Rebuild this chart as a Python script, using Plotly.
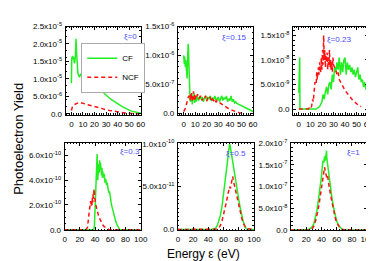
import plotly.graph_objects as go

# ---------------- data ----------------
# panel xi=0  (values in units of 1e-5)
p0_unit = 1e-5
p0_cf_x = [0, 0.3, 0.6, 1, 1.5, 2, 2.5, 3, 3.5, 4, 4.5, 5, 5.5, 6, 7, 8, 9, 10, 11, 12, 13, 14, 15, 16, 17, 18, 19, 20,
           21, 22, 23, 24, 25, 26, 27, 28, 29, 30, 32, 34, 36, 38, 40, 42, 44, 46, 48, 50, 52, 54, 56, 58, 60]
p0_cf_y = [0.88, 1.62, 1.55, 1.66, 1.58, 1.62, 1.45, 1.5, 1.7, 2.15, 1.75, 1.25, 1.2, 1.12, 1.05, 1.15, 1.08, 1.18, 1.04,
           1.08, 1.0, 1.04, 0.97, 0.96, 0.93, 0.88, 0.87, 0.82, 0.8, 0.76, 0.75, 0.7, 0.69, 0.64, 0.62, 0.58, 0.57, 0.52,
           0.47, 0.42, 0.38, 0.33, 0.29, 0.25, 0.21, 0.17, 0.14, 0.11, 0.08, 0.06, 0.045, 0.03, 0.02]
p0_ncf_x = [0, 0.5, 1, 2, 3, 4, 5, 6, 7, 8, 10, 12, 14, 16, 18, 20, 22, 25, 28, 30, 33, 36, 40, 44, 48, 52, 56, 60]
p0_ncf_y = [0.1, 0.18, 0.22, 0.26, 0.28, 0.3, 0.31, 0.32, 0.33, 0.32, 0.31, 0.29, 0.28, 0.26, 0.24, 0.22, 0.2, 0.17,
            0.14, 0.12, 0.1, 0.08, 0.055, 0.035, 0.02, 0.01, 0.005, 0.002]

# panel xi=0.15 (units of 1e-6)
p1_unit = 1e-6
p1_cf_x = [0, 0.3, 0.6, 0.9, 1.2, 1.5, 1.8, 2.1, 2.4, 2.7, 3.0, 3.3, 3.6, 3.9, 4.2, 4.5, 4.8, 5.1, 5.5, 6, 6.5, 7,
           7.5, 8, 8.5, 9, 9.5, 10, 10.5, 11, 11.5, 12, 13, 14, 15, 16, 17, 18, 19, 20, 21, 22, 23, 24, 25, 26, 27, 28,
           29, 30, 31, 32, 33, 34, 35, 36, 37, 38, 39, 40, 41, 42, 43, 44, 45, 46, 48, 50, 52, 54, 56, 58, 60]
p1_cf_y = [1.0, 0.95, 0.85, 0.98, 0.9, 0.8, 0.92, 0.85, 0.72, 0.8, 0.6, 0.85, 1.0, 1.2, 1.1, 0.9, 0.6, 0.3, 0.25,
           0.2, 0.28, 0.32, 0.15, 0.3, 0.22, 0.35, 0.18, 0.3, 0.25, 0.2, 0.3, 0.27, 0.22, 0.3, 0.24, 0.28, 0.2, 0.26,
           0.3, 0.22, 0.27, 0.25, 0.3, 0.21, 0.27, 0.24, 0.3, 0.22, 0.26, 0.28, 0.2, 0.25, 0.3, 0.22, 0.27, 0.24, 0.3,
           0.2, 0.25, 0.22, 0.3, 0.2, 0.24, 0.18, 0.2, 0.17, 0.15, 0.13, 0.1, 0.08, 0.06, 0.04, 0.03]
p1_ncf_x = [0, 1, 2, 3, 4, 5, 5.5, 6, 6.5, 7, 7.5, 8, 8.5, 9, 9.5, 10, 10.5, 11, 12, 13, 14, 15, 16, 17, 18, 19, 20,
            21, 22, 23, 24, 25, 26, 27, 28, 29, 30, 32, 34, 36, 38, 40, 42, 44, 46, 48, 50]
p1_ncf_y = [0.03, 0.06, 0.12, 0.2, 0.28, 0.3, 0.22, 0.33, 0.25, 0.35, 0.2, 0.3, 0.38, 0.24, 0.32, 0.22, 0.3, 0.27,
            0.33, 0.25, 0.28, 0.3, 0.22, 0.27, 0.25, 0.3, 0.21, 0.26, 0.24, 0.28, 0.2, 0.24, 0.22, 0.25, 0.19, 0.22,
            0.2, 0.17, 0.15, 0.12, 0.09, 0.07, 0.05, 0.03, 0.02, 0.01, 0.005]

# panel xi=0.23 (units of 1e-8)
p2_unit = 1e-8
p2_cf_x = [0, 0.2, 0.8, 1.0, 5, 10, 15, 18, 19, 20, 21, 22, 23, 24, 25, 26, 27, 28, 29, 30, 31, 32, 33, 34, 35, 36,
           37, 38, 39, 40, 41, 42, 43, 44, 45, 46, 47, 48, 49, 50, 51, 52, 53, 54, 55, 56, 57, 58, 59, 60]
p2_cf_y = [0.33, 1.05, 1.05, 0, 0, 0, 0, 0.05, 0.1, 0.15, 0.3, 0.2, 0.35, 0.45, 0.3, 0.5, 0.55, 0.4, 0.7, 0.55, 0.85,
           0.75, 0.95, 0.8, 1.05, 0.7, 0.95, 0.75, 1.0, 1.05, 0.7, 0.95, 0.8, 0.9, 0.75, 0.85, 0.7, 0.8, 0.65, 0.75,
           0.85, 0.6, 0.7, 0.55, 0.6, 0.45, 0.55, 0.4, 0.45, 0.35]
p2_ncf_x = [0, 5, 8, 9, 10, 11, 12, 12.5, 13, 14, 15, 15.5, 16, 17, 17.5, 18, 19, 19.5, 20, 20.5, 21, 21.5, 22, 22.5,
            23, 23.5, 24, 24.5, 25, 25.5, 26, 26.5, 27, 27.5, 28, 28.5, 29, 29.5, 30, 31, 32, 33, 34, 35, 36, 37, 38,
            40, 42, 44, 46, 48, 50, 52, 54]
p2_ncf_y = [0, 0, 0, 0.02, 0, 0.05, 0.2, 0.15, 0.35, 0.55, 0.5, 0.75, 0.6, 0.85, 0.7, 0.95, 0.75, 1.05, 0.8, 1.2, 0.9,
            1.5, 1.0, 1.2, 0.85, 1.1, 0.95, 1.15, 0.8, 1.05, 0.9, 1.2, 0.85, 1.0, 0.8, 0.95, 0.75, 1.05, 0.9, 0.85,
            0.8, 0.7, 0.75, 0.6, 0.55, 0.5, 0.45, 0.38, 0.32, 0.25, 0.2, 0.15, 0.1, 0.07, 0.05]

# panel xi=0.3 (units of 1e-10)
p3_unit = 1e-10
p3_cf_x = [0, 10, 20, 30, 38, 39, 40, 41, 42, 42.7, 43.3, 44, 44.5, 45, 45.5, 46, 46.5, 47, 47.5, 48, 48.5, 49, 49.5,
           50, 51, 52, 53, 54, 55, 56, 57, 58, 59, 60, 61, 62, 63, 64, 65, 66, 67, 68, 69, 70, 71, 72, 80, 90, 100]
p3_cf_y = [0, 0, 0, 0, 0, 0.2, 1.5, 3.5, 5.0, 6.1, 4.0, 4.8, 4.3, 5.3, 4.6, 5.6, 4.8, 5.4, 4.5, 5.1, 4.4, 5.0, 4.2,
           4.7, 4.2, 4.5, 3.8, 4.1, 3.6, 3.8, 3.3, 3.0, 3.1, 2.5, 2.2, 1.9, 1.6, 1.4, 1.1, 0.9, 0.7, 0.5, 0.35, 0.2,
           0.1, 0.03, 0, 0, 0]
p3_ncf_x = [0, 10, 20, 28, 30, 31, 32, 33, 34, 35, 35.5, 36, 36.5, 37, 37.5, 38, 38.5, 39, 39.5, 40, 41, 42, 43, 44,
            45, 46, 47, 48, 49, 50, 52, 54, 56, 58, 60, 70, 80, 90, 100]
p3_ncf_y = [0, 0, 0, 0, 0.2, 0.6, 1.2, 1.8, 2.3, 1.9, 2.4, 2.0, 2.6, 2.2, 2.9, 2.5, 3.3, 2.7, 3.0, 2.4, 2.0, 1.7, 1.5,
            1.2, 1.0, 0.9, 0.75, 0.6, 0.5, 0.4, 0.25, 0.15, 0.06, 0.02, 0, 0, 0, 0, 0]

# panel xi=0.5 (units of 1e-10)
p4_unit = 1e-10
p4_cf_x = [0, 20, 40, 45, 48, 50, 52, 54, 56, 58, 60, 62, 63, 64, 65, 66, 67, 68, 69, 70, 71, 72, 74, 76, 78, 80, 82,
           84, 86, 88, 90, 92, 100]
p4_cf_y = [0, 0, 0, 0.003, 0.01, 0.02, 0.05, 0.1, 0.17, 0.27, 0.4, 0.55, 0.62, 0.7, 0.78, 0.86, 0.94, 1.0, 0.96, 0.9,
           0.85, 0.8, 0.7, 0.58, 0.46, 0.35, 0.25, 0.16, 0.09, 0.04, 0.01, 0, 0]
p4_ncf_x = [0, 20, 40, 50, 52, 54, 56, 58, 60, 62, 64, 66, 67, 68, 69, 70, 71, 72, 73, 74, 76, 78, 80, 82, 84, 86, 88,
            90, 100]
p4_ncf_y = [0, 0, 0, 0, 0.005, 0.02, 0.05, 0.1, 0.17, 0.25, 0.33, 0.42, 0.45, 0.5, 0.48, 0.55, 0.58, 0.62, 0.57, 0.52,
            0.45, 0.37, 0.28, 0.2, 0.13, 0.07, 0.03, 0.01, 0]

# panel xi=1 (units of 1e-7)
p5_unit = 1e-7
p5_cf_x = [0, 10, 20, 23, 26, 28, 30, 32, 34, 36, 38, 40, 41, 42, 43, 44, 45, 46, 46.6, 47, 48, 49, 50, 52, 54, 56, 58,
           60, 62, 64, 66, 68, 70, 80, 90, 100]
p5_cf_y = [0, 0, 0, 0.01, 0.04, 0.08, 0.15, 0.28, 0.45, 0.7, 0.95, 1.25, 1.45, 1.6, 1.55, 1.7, 1.6, 1.75, 1.83, 1.65,
           1.5, 1.4, 1.2, 0.95, 0.7, 0.5, 0.33, 0.2, 0.12, 0.06, 0.03, 0.01, 0, 0, 0, 0]
p5_ncf_x = [0, 10, 20, 25, 27, 29, 31, 33, 35, 37, 39, 40, 41, 42, 43, 44, 45, 46, 47, 48, 49, 50, 52, 54, 56, 58, 60,
            62, 64, 66, 70, 80, 90, 100]
p5_ncf_y = [0, 0, 0, 0, 0.02, 0.06, 0.13, 0.25, 0.42, 0.62, 0.85, 1.0, 1.1, 1.25, 1.3, 1.45, 1.35, 1.3, 1.2, 1.25, 1.1,
            1.0, 0.8, 0.6, 0.42, 0.28, 0.17, 0.1, 0.05, 0.02, 0.005, 0, 0, 0]

xi_labels = ["ξ=0", "ξ=0.15", "ξ=0.23", "ξ=0.3", "ξ=0.5", "ξ=1"]
series_names = ["CF", "NCF"]

top_x_ticks = [0, 10, 20, 30, 40, 50, 60]
bot_x_ticks = [0, 20, 40, 60, 80, 100]

y_tickvals = [
    [0, 5e-6, 1e-5, 1.5e-5, 2e-5, 2.5e-5],
    [0, 5e-7, 1e-6, 1.5e-6],
    [0, 5e-9, 1e-8, 1.5e-8],
    [0, 2e-10, 4e-10, 6e-10],
    [0, 5e-11, 1e-10],
    [0, 5e-8, 1e-7, 1.5e-7, 2e-7],
]
y_ticktext = [
    ["0.0", "5.0x10<sup>-6</sup>", "1.0x10<sup>-5</sup>", "1.5x10<sup>-5</sup>", "2.0x10<sup>-5</sup>", "2.5x10<sup>-5</sup>"],
    ["0.0", "5.0x10<sup>-7</sup>", "1.0x10<sup>-6</sup>", "1.5x10<sup>-6</sup>"],
    ["0.0", "5.0x10<sup>-9</sup>", "1.0x10<sup>-8</sup>", "1.5x10<sup>-8</sup>"],
    ["0.0", "2.0x10<sup>-10</sup>", "4.0x10<sup>-10</sup>", "6.0x10<sup>-10</sup>"],
    ["0.0", "5.0x10<sup>-11</sup>", "1.0x10<sup>-10</sup>"],
    ["0.0", "5.0x10<sup>-8</sup>", "1.0x10<sup>-7</sup>", "1.5x10<sup>-7</sup>", "2.0x10<sup>-7</sup>"],
]
y_ranges = [[-0.03e-5, 2.5e-5], [-0.03e-6, 1.5e-6], [-0.12e-8, 1.68e-8],
            [-0.05e-10, 7.0e-10], [-0.01e-10, 1.01e-10], [-0.01e-7, 2.01e-7]]

# ---------------- figure ----------------
W, H = 374, 261
GREEN = "#22ee22"
RED = "#ff1111"
BLUE = "#4a4aff"
FONT = "Liberation Sans, Arial, sans-serif"

panels = [
    (p0_cf_x, p0_cf_y, p0_ncf_x, p0_ncf_y, p0_unit),
    (p1_cf_x, p1_cf_y, p1_ncf_x, p1_ncf_y, p1_unit),
    (p2_cf_x, p2_cf_y, p2_ncf_x, p2_ncf_y, p2_unit),
    (p3_cf_x, p3_cf_y, p3_ncf_x, p3_ncf_y, p3_unit),
    (p4_cf_x, p4_cf_y, p4_ncf_x, p4_ncf_y, p4_unit),
    (p5_cf_x, p5_cf_y, p5_ncf_x, p5_ncf_y, p5_unit),
]

# pixel boxes (left, right, top, bottom)
boxes = [(57, 134, 13, 105), (172, 249, 13, 105), (290, 367, 13, 105),
         (56, 134, 134, 225), (172, 250, 134, 225), (288, 366, 134, 225)]
# annotation centers (px)
ann_pos = [(123, 23), (230, 24), (337, 27), (123, 143), (232, 145), (352, 144)]

fig = go.Figure()
layout = dict(
    width=W, height=H, margin=dict(l=0, r=0, t=0, b=0),
    paper_bgcolor="white", plot_bgcolor="white",
    font=dict(family=FONT, size=8, color="black"),
    showlegend=True,
    legend=dict(x=73 / W, y=1 - 30 / H, xanchor="left", yanchor="top",
                bgcolor="white", bordercolor="#aaaaaa", borderwidth=1,
                font=dict(size=8, family=FONT), itemwidth=30, tracegroupgap=0),
    annotations=[],
)

for i, (cx, cy, nx, ny, unit) in enumerate(panels):
    k = "" if i == 0 else str(i + 1)
    xa, ya = "x" + k, "y" + k
    fig.add_trace(go.Scatter(x=cx, y=[v * unit for v in cy], mode="lines", name=series_names[0],
                             line=dict(color=GREEN, width=1.5), xaxis=xa, yaxis=ya,
                             showlegend=(i == 0)))
    fig.add_trace(go.Scatter(x=nx, y=[v * unit for v in ny], mode="lines", name=series_names[1],
                             line=dict(color=RED, width=1.5, dash="4px,3px"), xaxis=xa, yaxis=ya,
                             showlegend=(i == 0)))
    l, r, t, b = boxes[i]
    top = i < 3
    xaxis = dict(
        domain=[l / W, r / W], anchor=ya,
        range=[-5, 60] if top else [0, 100],
        tickvals=top_x_ticks if top else bot_x_ticks,
        showline=True, linecolor="black", linewidth=1, mirror="ticks",
        ticks="inside", ticklen=3, tickcolor="black", tickwidth=1,
        minor=dict(dtick=2 if top else 4, ticks="inside", ticklen=1.5, tickcolor="black", tickwidth=1),
        showgrid=False, zeroline=False, tickfont=dict(size=8), ticklabelstandoff=1,
    )
    yaxis = dict(
        domain=[1 - b / H, 1 - t / H], anchor=xa,
        range=y_ranges[i],
        tickvals=y_tickvals[i], ticktext=y_ticktext[i],
        showline=True, linecolor="black", linewidth=1, mirror="ticks",
        ticks="inside", ticklen=3, tickcolor="black", tickwidth=1,
        minor=dict(nticks=5, ticks="inside", ticklen=1.5, tickcolor="black", tickwidth=1),
        showgrid=False, zeroline=False, tickfont=dict(size=8), ticklabelstandoff=1,
    )
    layout["xaxis" + k] = xaxis
    layout["yaxis" + k] = yaxis
    ax, ay = ann_pos[i]
    layout["annotations"].append(dict(
        text=xi_labels[i], x=ax / W, y=1 - ay / H, xref="paper", yref="paper",
        showarrow=False, font=dict(size=8, color=BLUE, family=FONT), xanchor="center", yanchor="middle"))

layout["annotations"].append(dict(
    text="Photoelectron Yield", x=8 / W, y=1 - 130 / H, xref="paper", yref="paper",
    showarrow=False, textangle=-90, font=dict(size=13, family=FONT), xanchor="center", yanchor="middle"))
layout["annotations"].append(dict(
    text="Energy ε (eV)", x=198 / W, y=1 - 250 / H, xref="paper", yref="paper",
    showarrow=False, font=dict(size=12, family=FONT), xanchor="center", yanchor="middle"))

fig.update_layout(**layout)
fig.write_html("out.html")
